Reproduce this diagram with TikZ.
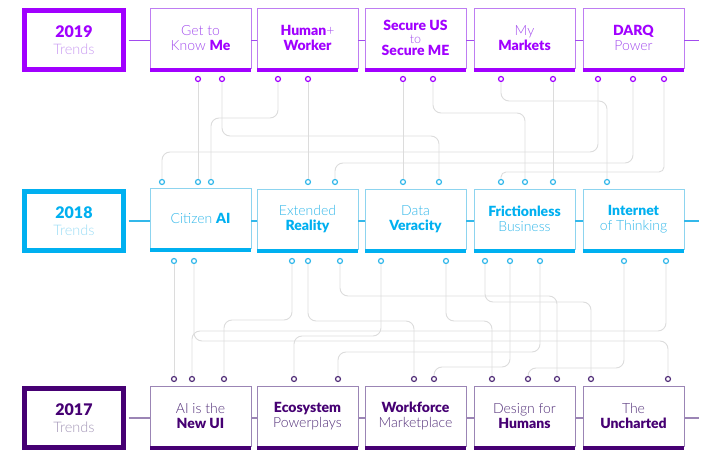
\documentclass[tikz,border=0pt]{standalone}
\usepackage{fontspec}
\setmainfont{Lato Light}[BoldFont={Lato Black}]
\usetikzlibrary{calc}
\definecolor{pA}{HTML}{A100FF}
\definecolor{pAl}{HTML}{A24BEE}
\definecolor{pAt}{HTML}{C99AF2}
\definecolor{pAb}{HTML}{BE7DF2}
\definecolor{pB}{HTML}{00B0F0}
\definecolor{pBl}{HTML}{33B8EA}
\definecolor{pBt}{HTML}{9BDDF6}
\definecolor{pBb}{HTML}{8DD4EF}
\definecolor{pC}{HTML}{460073}
\definecolor{pCl}{HTML}{53307A}
\definecolor{pCt}{HTML}{A497B8}
\definecolor{pCb}{HTML}{9B85B5}
\definecolor{connc}{HTML}{DCDCDC}
\newcommand\hA[1]{{\bfseries\color{pA}#1}}
\newcommand\hB[1]{{\bfseries\color{pB}#1}}
\newcommand\hC[1]{{\bfseries\color{pC}#1}}
\tikzset{
  conn/.style={draw=connc, line width=0.9pt, rounded corners=8pt},
  dot/.style={circle, draw, fill=white, line width=1.2pt, minimum size=5pt, inner sep=0pt},
  topic/.style={rectangle, draw, fill=white, line width=0.9pt, minimum width=101pt, minimum height=60pt, inner sep=0pt, outer sep=0pt, align=center, font=\fontsize{14}{15}\selectfont},
  yearbox/.style={rectangle, draw, fill=white, line width=5pt, minimum width=99pt, minimum height=59pt, inner sep=0pt, outer sep=0pt, align=center, font=\fontsize{14.5}{17}\selectfont},
  tline/.style={line width=1.1pt}
}
\begin{document}
\begin{tikzpicture}[x=1pt,y=-1pt]
\useasboundingbox (0,0) rectangle (724,462);
% ---------- row 2019 ----------
\node[yearbox, draw=pA, text=pAt] (ya) at (74,40.5) {{\fontsize{16}{17}\selectfont\hA{2019}}\\Trends};
\node[topic, draw=pAb, text=pAl] (ra1) at (200.5,38) {Get to\\Know \hA{Me}};
\node[topic, draw=pAb, text=pAl] (ra2) at (307.5,38) {\hA{Human}+\\\hA{Worker}};
\node[topic, draw=pAb, text=pAl, font=\fontsize{14}{12.5}\selectfont] (ra3) at (415.5,38) {\hA{Secure US}\\{\fontsize{12.5}{12.5}\selectfont to}\\\hA{Secure ME}};
\node[topic, draw=pAb, text=pAl] (ra4) at (524.5,38) {My\\\hA{Markets}};
\node[topic, draw=pAb, text=pAl] (ra5) at (633.5,38) {\hA{DARQ}\\Power};
\coordinate (ea) at (699,40.5);
\foreach \n in {ra1,ra2,ra3,ra4,ra5} \fill[pA] (\n.south west) rectangle ([yshift=-4pt]\n.south east);
\draw[tline, draw=pAl] ([xshift=5pt]ya.east) -- (ya -| ra1.west);
\draw[tline, draw=pAl] (ra1.east |- ya) -- (ra2.west |- ya);
\draw[tline, draw=pAl] (ra2.east |- ya) -- (ra3.west |- ya);
\draw[tline, draw=pAl] (ra3.east |- ya) -- (ra4.west |- ya);
\draw[tline, draw=pAl] (ra4.east |- ya) -- (ra5.west |- ya);
\draw[tline, draw=pAl] (ra5.east |- ya) -- (ea);
% ---------- row 2018 ----------
\node[yearbox, draw=pB, text=pBt] (yb) at (74,221) {{\fontsize{16}{17}\selectfont\hB{2018}}\\Trends};
\node[topic, draw=pBb, text=pBl] (rb1) at (200.5,218) {Citizen \hB{AI}};
\node[topic, draw=pBb, text=pBl] (rb2) at (307.5,219) {Extended\\\hB{Reality}};
\node[topic, draw=pBb, text=pBl] (rb3) at (415.5,219) {Data\\\hB{Veracity}};
\node[topic, draw=pBb, text=pBl] (rb4) at (524.5,219) {\hB{Frictionless}\\Business};
\node[topic, draw=pBb, text=pBl] (rb5) at (633.5,219) {\hB{Internet}\\of Thinking};
\coordinate (eb) at (699,221);
\foreach \n in {rb1,rb2,rb3,rb4,rb5} \fill[pB] (\n.south west) rectangle ([yshift=-4pt]\n.south east);
\draw[tline, draw=pBl] ([xshift=5pt]yb.east) -- (yb -| rb1.west);
\draw[tline, draw=pBl] (rb1.east |- yb) -- (rb2.west |- yb);
\draw[tline, draw=pBl] (rb2.east |- yb) -- (rb3.west |- yb);
\draw[tline, draw=pBl] (rb3.east |- yb) -- (rb4.west |- yb);
\draw[tline, draw=pBl] (rb4.east |- yb) -- (rb5.west |- yb);
\draw[tline, draw=pBl] (rb5.east |- yb) -- (eb);
% ---------- row 2017 ----------
\node[yearbox, draw=pC, text=pCt] (yc) at (74,418) {{\fontsize{16}{17}\selectfont\hC{2017}}\\Trends};
\node[topic, draw=pCb, text=pCl] (rc1) at (200.5,416) {AI is the\\\hC{New UI}};
\node[topic, draw=pCb, text=pCl] (rc2) at (307.5,416) {\hC{Ecosystem}\\Powerplays};
\node[topic, draw=pCb, text=pCl] (rc3) at (415.5,416) {\hC{Workforce}\\Marketplace};
\node[topic, draw=pCb, text=pCl] (rc4) at (524.5,416) {Design for\\\hC{Humans}};
\node[topic, draw=pCb, text=pCl] (rc5) at (633.5,416) {The\\\hC{Uncharted}};
\coordinate (ec) at (699,418);
\foreach \n in {rc1,rc2,rc3,rc4,rc5} \fill[pC] (\n.south west) rectangle ([yshift=-4pt]\n.south east);
\draw[tline, draw=pCb] ([xshift=5pt]yc.east) -- (yc -| rc1.west);
\draw[tline, draw=pCb] (rc1.east |- yc) -- (rc2.west |- yc);
\draw[tline, draw=pCb] (rc2.east |- yc) -- (rc3.west |- yc);
\draw[tline, draw=pCb] (rc3.east |- yc) -- (rc4.west |- yc);
\draw[tline, draw=pCb] (rc4.east |- yc) -- (rc5.west |- yc);
\draw[tline, draw=pCb] (rc5.east |- yc) -- (ec);
% ---------- dots ----------
\foreach \x [count=\i] in {198,222,278,308,403,433,501,553,598,633,664}
  \node[dot, draw=pA] (t\i) at (\x,79) {};
\foreach \x [count=\i] in {162,198,211,308,335,403,439,501,525,553,607}
  \node[dot, draw=pBl] (a\i) at (\x,182) {};
\foreach \x [count=\i] in {174,194,292,308,340,381,446,485,510,540,624,666}
  \node[dot, draw=pBl] (b\i) at (\x,261) {};
\foreach \x [count=\i] in {174,192,224,294,338,414,434,492,528,557,591,668}
  \node[dot, draw=pCl] (c\i) at (\x,379) {};
% ---------- connectors 2019 -> 2018 ----------
\draw[conn] (t1) -- (a2);
\draw[conn] (t2) -- ++(0,57) -| (a7);
\draw[conn] (t3) -- ++(0,39) -| (a3);
\draw[conn] (t4) -- (a4);
\draw[conn] (t5) -- (a6);
\draw[conn] (t6) -- ++(0,34) -| (a9);
\draw[conn] (t7) -- ++(0,22) -| (a11);
\draw[conn] (t8) -- (a10);
\draw[conn] (t9) -- ++(0,73) -| (a1);
\draw[conn] (t10) -- ++(0,84) -| (a5);
\draw[conn, rounded corners=5pt] (t11) -- ++(0,93) -| (a8);
% ---------- connectors 2018 -> 2017 ----------
\draw[conn] (b1) -- (c1);
\draw[conn] (b2) -- ++(0,80) -| (c12);
\draw[conn] (b3) -- ++(0,59) -| (c3);
\draw[conn] (b4) -- ++(0,60) -| (c6);
\draw[conn] (b5) -- ++(0,35) -| (c10);
\draw[conn] (b6) -- ++(0,75) -| (c4);
\draw[conn] (b7) -- ++(0,60) -| (c8);
\draw[conn] (b8) -- ++(0,41) -| (c11);
\draw[conn] (b9) -- ++(0,106) -| (c7);
\draw[conn] (b10) -- ++(0,91) -| (c5);
\draw[conn] (b11) -- ++(0,107) -| (c9);
\draw[conn] (b12) -- ++(0,70) -| (c2);
\end{tikzpicture}
\end{document}
